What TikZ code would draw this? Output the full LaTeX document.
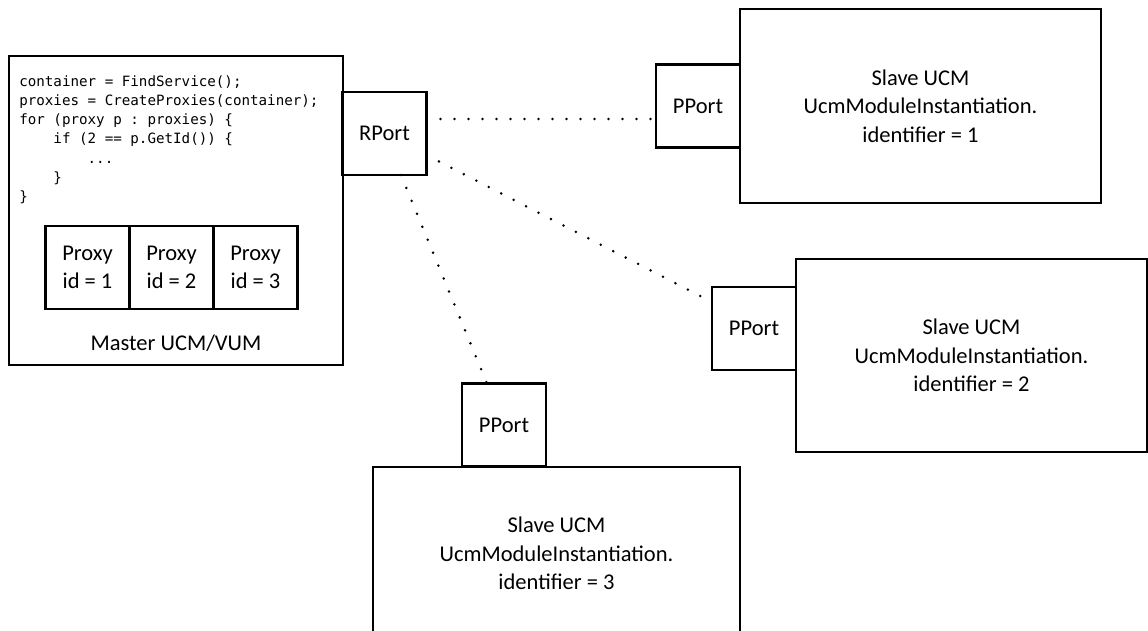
\documentclass[tikz,border=0pt]{standalone}
\usepackage{fontspec}
\setmainfont{Carlito}
\setmonofont{DejaVu Sans Mono}
\usetikzlibrary{positioning}

\begin{document}
\begin{tikzpicture}[x=1pt, y=-1pt, line width=2.6pt,
    box/.style={rectangle, draw, outer sep=0pt, inner sep=0pt, align=center, font=\fontsize{22.5}{28.5}\selectfont},
    port/.style={box, minimum width=84pt, minimum height=83pt},
    proxy/.style={box, minimum width=84pt, minimum height=83pt},
    code/.style={inner sep=0pt, align=left, anchor=north west, font=\ttfamily\fontsize{14.2}{19.3}\selectfont},
    link/.style={draw, line width=2.8pt, line cap=round, dash pattern=on 0pt off 14pt}]

    \useasboundingbox (0,0) rectangle (1148,630);
    \clip (0,0) rectangle (1148,630);

    \node [box, minimum width=334pt, minimum height=309pt] (master) at (176,210.5) {};
    \node [code] (listing) at (18,74) {container = FindService();\\
proxies = CreateProxies(container);\\
for (proxy p : proxies) \{\\
\phantom{xxxx}if (2 == p.GetId()) \{\\
\phantom{xxxxxxxx}...\\
\phantom{xxxx}\}\\
\}};
    \node [proxy] (proxy1) at (87.5,267.5) {Proxy\\id = 1};
    \node [proxy, right=0pt of proxy1] (proxy2) {Proxy\\id = 2};
    \node [proxy, right=0pt of proxy2] (proxy3) {Proxy\\id = 3};
    \node [font=\fontsize{22.5}{28.5}\selectfont] (mastername) at (176,343) {Master UCM/VUM};
    \node [port] (rport) at (384.5,133.5) {RPort};

    \node [box, minimum width=361pt, minimum height=194pt] (slave1) at (920.5,106) {Slave UCM\\UcmModuleInstantiation.\\identifier = 1};
    \node [port, left=0pt of slave1] (pport1) {PPort};

    \node [box, minimum width=351pt, minimum height=193pt] (slave2) at (971.5,355.5) {Slave UCM\\UcmModuleInstantiation.\\identifier = 2};
    \node [port] (pport2) at (754,328.5) {PPort};

    \node [box, minimum width=367pt, minimum height=173pt] (slave3) at (556.5,553.5) {Slave UCM\\UcmModuleInstantiation.\\identifier = 3};
    \node [port] (pport3) at (504,425) {PPort};

    \path [link] ([yshift=14.5pt]rport.east) -- ([yshift=-13pt]pport1.west);
    \path [link] ([yshift=-21.5pt]rport.east) -- ([yshift=26.5pt]pport2.west);
    \path [link] ([xshift=16.5pt]rport.south) -- ([xshift=-17pt]pport3.north);

\end{tikzpicture}
\end{document}
